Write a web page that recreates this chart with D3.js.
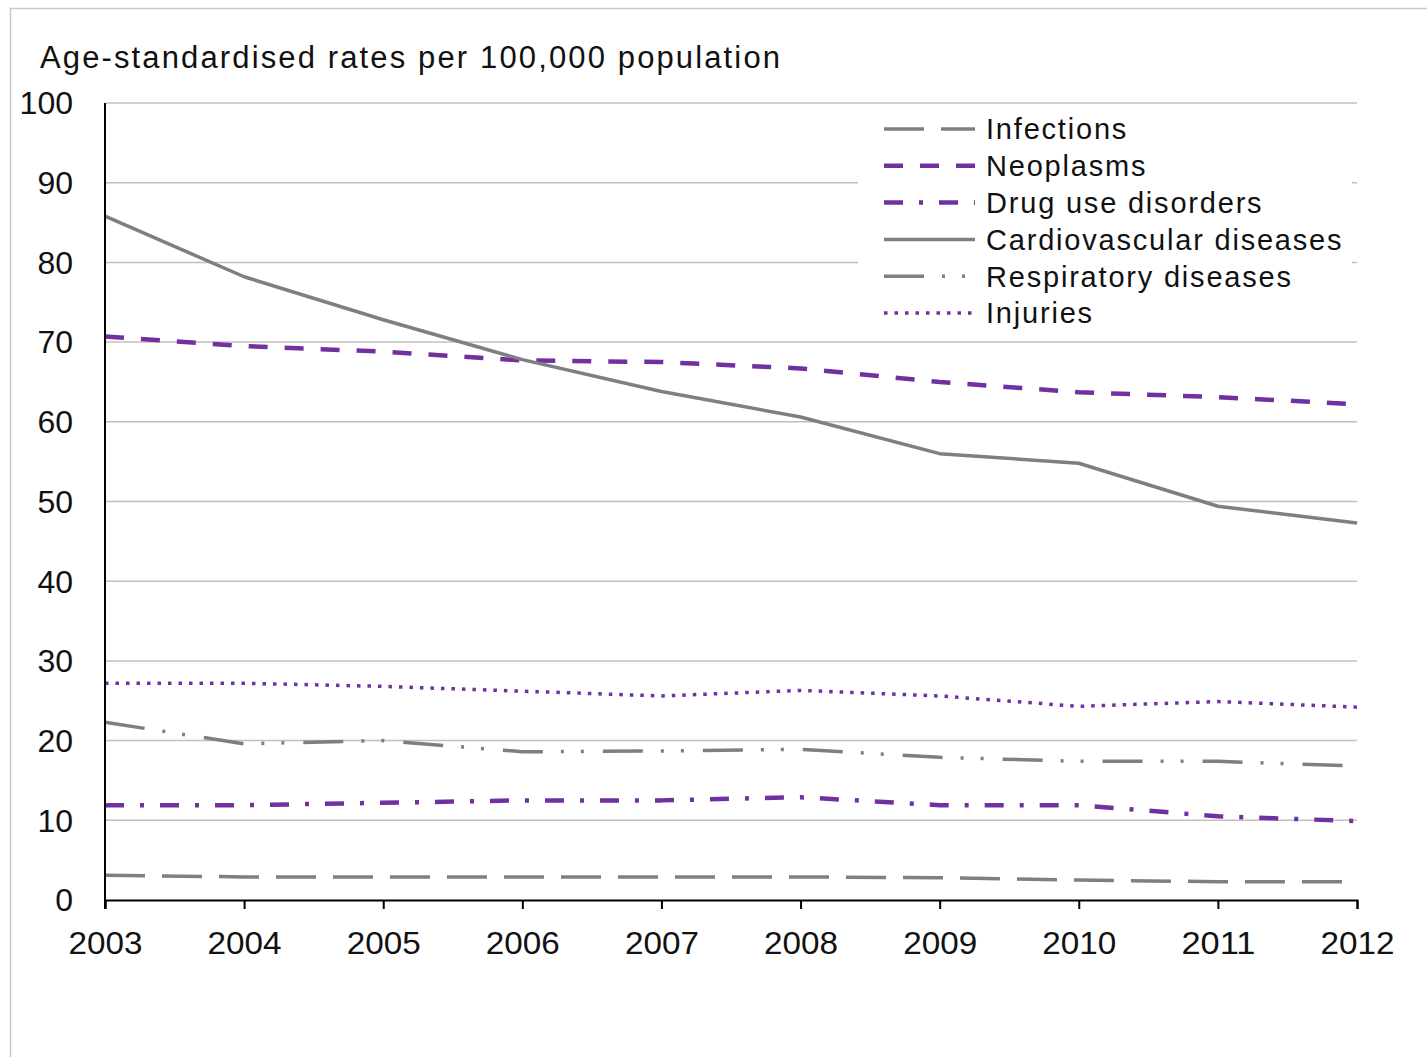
<!DOCTYPE html>
<html><head><meta charset="utf-8">
<script src="https://cdn.jsdelivr.net/npm/d3@7"></script>
<style>body{margin:0;background:#fff}svg{display:block}text{font-family:"Liberation Sans",Arial,sans-serif;fill:#111}</style>
</head><body><svg id="c" width="1427" height="1057"></svg>
<script>
const years = [2003,2004,2005,2006,2007,2008,2009,2010,2011,2012];
const yTicks = [0,10,20,30,40,50,60,70,80,90,100];
const seriesNames = ["Infections","Neoplasms","Drug use disorders","Cardiovascular diseases","Respiratory diseases","Injuries"];
const infections = [3.1,2.9,2.9,2.9,2.9,2.9,2.8,2.5,2.3,2.3];
const neoplasms = [70.7,69.5,68.8,67.7,67.5,66.7,65.0,63.7,63.1,62.2];
const drugUse = [11.9,11.9,12.2,12.5,12.5,12.9,11.9,11.9,10.5,9.9];
const cardiovascular = [85.8,78.2,72.8,67.8,63.8,60.6,56.0,54.8,49.4,47.3];
const respiratory = [22.3,19.6,20.0,18.6,18.7,18.9,17.9,17.4,17.4,16.8];
const injuries = [27.2,27.2,26.8,26.2,25.6,26.3,25.6,24.3,24.9,24.2];
const yTitle = "Age-standardised rates per 100,000 population";

const seriesValues = [infections,neoplasms,drugUse,cardiovascular,respiratory,injuries];
const grey = "#7f7f7f", purple = "#7030a0";
const styles = [
  {c:grey, d:"40,17", w:3.5},
  {c:purple, d:"19,17", w:4.5},
  {c:purple, d:"19,16,4,16", w:4.5},
  {c:grey, d:null, w:3.5},
  {c:grey, d:"40,18,3,17,3,19", w:3.5},
  {c:purple, d:"3.5,7", w:3.5}
];

const svg = d3.select("#c");
svg.append("rect").attr("x",10.5).attr("y",8.5).attr("width",1440).attr("height",1100)
  .attr("fill","none").attr("stroke","#c8c8c8").attr("stroke-width",1.5);

const L=105, R=1357, T=103, B=900;
const x = d3.scaleLinear().domain([2003,2012]).range([L,R]);
const y = d3.scaleLinear().domain([0,100]).range([B,T]);

svg.append("g").selectAll("line").data(yTicks.filter(v=>v>0)).join("line")
  .attr("x1",L).attr("x2",R).attr("y1",d=>y(d)).attr("y2",d=>y(d))
  .attr("stroke","#c0c0c0").attr("stroke-width",1.5);

svg.append("rect").attr("x",858).attr("y",112).attr("width",494).attr("height",220).attr("fill","#fff");

const line = d3.line().x((d,i)=>x(years[i])).y(d=>y(d));
seriesValues.forEach((vals,i)=>{
  const s=styles[i];
  svg.append("path").datum(vals).attr("d",line).attr("fill","none")
    .attr("stroke",s.c).attr("stroke-width",s.w).attr("stroke-dasharray",s.d)
    .attr("stroke-linejoin","round");
});

const xAxis = d3.axisBottom(x).tickValues(years).tickFormat(d3.format("d")).tickSize(9).tickPadding(22);
const gx = svg.append("g").attr("transform",`translate(0,${B})`).call(xAxis);
gx.select(".domain").attr("stroke","#000").attr("stroke-width",2);
gx.selectAll(".tick line").attr("stroke","#000").attr("stroke-width",2);
gx.selectAll(".tick text").style("font-size","32px").attr("fill","#111").attr("textLength",74).attr("lengthAdjust","spacingAndGlyphs");

const yAxis = d3.axisLeft(y).tickValues(yTicks).tickSize(0).tickPadding(32);
const gy = svg.append("g").attr("transform",`translate(${L},0)`).call(yAxis);
gy.select(".domain").remove();
gy.selectAll(".tick text").style("font-size","32px").attr("fill","#111").attr("dy","0.34em");
svg.append("line").attr("x1",L).attr("x2",L).attr("y1",T).attr("y2",B+9).attr("stroke","#000").attr("stroke-width",2);

svg.append("text").attr("x",40).attr("y",68).style("font-size","31px")
  .attr("textLength",740).attr("lengthAdjust","spacing").text(yTitle);

const lg = svg.append("g");
seriesNames.forEach((n,i)=>{
  const yy = 129 + i*36.8;
  const s=styles[i];
  lg.append("line").attr("x1",884).attr("x2",975).attr("y1",yy).attr("y2",yy)
    .attr("stroke",s.c).attr("stroke-width",s.w).attr("stroke-dasharray",s.d);
  lg.append("text").attr("x",986).attr("y",yy).attr("dy","0.36em").style("font-size","29px")
    .style("letter-spacing","1.8px").text(n);
});
</script></body></html>
